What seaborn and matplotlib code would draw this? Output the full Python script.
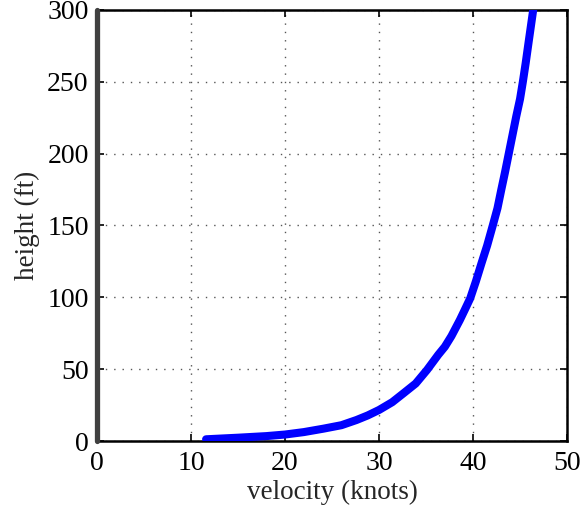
import matplotlib
matplotlib.use('Agg')
import matplotlib.pyplot as plt
import seaborn as sns

# wind speed profile
velocity = [11.6, 15.0, 18.0, 20.0, 22.0, 24.1, 26.0, 27.6, 28.8, 30.0, 31.4,
            32.6, 33.9, 35.1, 36.3, 37.0, 37.7, 38.6, 39.1, 39.7, 40.3, 40.9,
            41.5, 42.1, 42.6, 43.0, 43.4, 43.8, 44.2, 44.6, 45.0, 45.3, 45.6,
            45.9, 46.4]
height = [1.2, 2.3, 3.4, 4.5, 6.2, 8.6, 11.0, 14.6, 17.8, 21.6, 27.0,
          33.2, 40.0, 49.4, 60.0, 65.6, 73.0, 84.2, 91.0, 99.3, 111.0, 123.7,
          136.0, 150.0, 162.0, 174.7, 187.0, 200.0, 213.0, 226.0, 238.0, 250.0,
          263.0, 277.0, 300.0]

# mast drawn along the height axis
mast_x = [0, 0]
mast_y = [0, 300]

x_ticks = [0, 10, 20, 30, 40, 50]
y_ticks = [0, 50, 100, 150, 200, 250, 300]

sns.set_style('ticks')
plt.rcParams['font.family'] = ['Liberation Serif', 'DejaVu Serif']

fig = plt.figure(figsize=(5.81, 5.17), dpi=100)
ax = fig.add_axes([0.167, 0.147, 0.809, 0.834])

sns.lineplot(x=mast_x, y=mast_y, color='#404040', linewidth=3.8,
             sort=False, estimator=None, ax=ax, clip_on=False, zorder=4)
sns.lineplot(x=velocity, y=height, color='#0000ff', linewidth=5.8,
             sort=False, estimator=None, ax=ax, zorder=3)

ax.set_xlim(0, 50)
ax.set_ylim(0, 300)
ax.set_xticks(x_ticks)
ax.set_yticks(y_ticks)
ax.grid(True, color='#555555', linestyle=(0, (1, 5)), linewidth=1.0)
ax.tick_params(direction='in', top=True, right=True, length=5, width=1.2,
               labelsize=20, colors='black')
ax.tick_params(axis='x', pad=7)
ax.tick_params(axis='y', pad=6)
for s in ax.spines.values():
    s.set_linewidth(1.8)
    s.set_color('black')

ax.set_xlabel('velocity (knots)', fontsize=19.5, labelpad=3)
ax.set_ylabel('height (ft)', fontsize=19.5, labelpad=5)

fig.savefig('out.png', dpi=100)
